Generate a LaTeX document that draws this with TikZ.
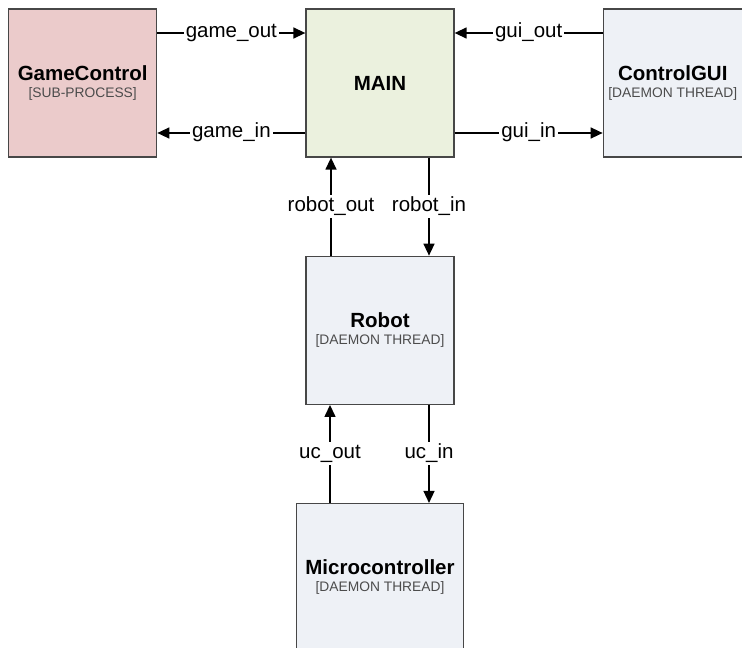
\documentclass[tikz,border=0pt]{standalone}
\usepackage{fontspec}
\setmainfont{Liberation Sans}
\usetikzlibrary{positioning, arrows.meta}
\definecolor{gamefill}{HTML}{EBCBCB}
\definecolor{mainfill}{HTML}{EBF1DE}
\definecolor{threadfill}{HTML}{EEF1F6}

\begin{document}
\begin{tikzpicture}[
    node distance=98pt,
    box/.style={draw=black!72, line width=1.3pt, minimum width=148pt, minimum height=148pt, inner sep=0pt, align=center, font=\fontsize{20.5}{17}\selectfont\bfseries},
    sub/.style={fill=gamefill},
    thread/.style={fill=threadfill},
    lbl/.style={fill=white, inner sep=2pt, text height=14pt, text depth=5pt, font=\fontsize{20.5}{22}\selectfont},
    arrow/.style={-{Triangle[length=12pt,width=11pt]}, line width=1.4pt, draw=black}
]
\useasboundingbox (0,0) rectangle (742pt,-648pt);

\newcommand{\kind}[1]{{\fontsize{13.8}{16}\selectfont\mdseries\color{black!70}[#1]}}

\node[box, fill=mainfill] (main) at (380pt,-83pt) {MAIN};
\node[box, sub, left=148pt of main] (game) {GameControl\\\kind{SUB-PROCESS}};
\node[box, thread, right=148pt of main, minimum width=139pt] (gui) {ControlGUI\\\kind{DAEMON THREAD}};
\node[box, thread, below=of main] (robot) {Robot\\\kind{DAEMON THREAD}};
\node[box, thread, below=of robot, minimum width=167pt, minimum height=146pt] (micro) {Microcontroller\\\kind{DAEMON THREAD}};

\draw[arrow] ([yshift=50pt]game.east) -- node[lbl] {game\_out} ([yshift=50pt]main.west);
\draw[arrow] ([yshift=-50pt]main.west) -- node[lbl] {game\_in} ([yshift=-50pt]game.east);
\draw[arrow] ([yshift=50pt]gui.west) -- node[lbl] {gui\_out} ([yshift=50pt]main.east);
\draw[arrow] ([yshift=-50pt]main.east) -- node[lbl] {gui\_in} ([yshift=-50pt]gui.west);
\draw[arrow] ([xshift=-49pt]robot.north) -- node[lbl] {robot\_out} ([xshift=-49pt]main.south);
\draw[arrow] ([xshift=49pt]main.south) -- node[lbl] {robot\_in} ([xshift=49pt]robot.north);
\draw[arrow] ([xshift=-50pt]micro.north) -- node[lbl] {uc\_out} ([xshift=-50pt]robot.south);
\draw[arrow] ([xshift=49pt]robot.south) -- node[lbl] {uc\_in} ([xshift=49pt]micro.north);
\end{tikzpicture}
\end{document}
